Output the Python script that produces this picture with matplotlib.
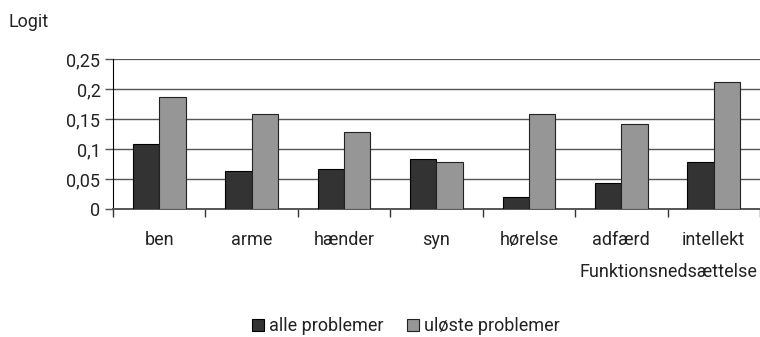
import matplotlib.pyplot as plt
import numpy as np

plt.rcParams['font.family'] = ['Roboto', 'DejaVu Sans']

categories = ['ben', 'arme', 'hænder', 'syn', 'hørelse', 'adfærd', 'intellekt']
alle = [0.108, 0.063, 0.067, 0.083, 0.020, 0.043, 0.078]
uloste = [0.186, 0.158, 0.128, 0.078, 0.158, 0.142, 0.211]
yticks = [0, 0.05, 0.1, 0.15, 0.2, 0.25]
ylabels = ['0', '0,05', '0,1', '0,15', '0,2', '0,25']

fs = 13
fig = plt.figure(figsize=(7.6, 3.37), dpi=100)
ax = fig.add_axes([113 / 760, 1 - 209 / 337, 647 / 760, 150 / 337])

x = np.arange(len(categories)) + 0.5
w = 0.285
ax.bar(x - w / 2, alle, w, color='#333333', edgecolor='black', linewidth=0.8,
       label='alle problemer', zorder=3)
ax.bar(x + w / 2, uloste, w, color='#969696', edgecolor='#222222', linewidth=0.8,
       label='uløste problemer', zorder=3)

ax.set_xlim(0, len(categories))
ax.set_ylim(0, 0.25)
ax.set_yticks(yticks)
ax.set_yticklabels(ylabels, fontsize=fs, color='#222222')
for t in yticks[1:]:
    ax.axhline(t, color='#555555', lw=1.6 if t == 0.25 else 1.0, zorder=1)

ax.set_xticks(np.arange(len(categories) + 1))
ax.set_xticklabels([])
ax.tick_params(axis='x', direction='out', length=6, width=1, color='#333333')
ax.tick_params(axis='y', length=6, width=1, color='#555555', pad=3)
for xi, c in zip(x, categories):
    ax.text(xi, -0.052, c, ha='center', va='center', fontsize=fs,
            color='#222222', transform=ax.transData)

for s in ['top', 'right']:
    ax.spines[s].set_visible(False)
ax.spines['left'].set_color('black')
ax.spines['bottom'].set_color('#555555')
ax.spines['bottom'].set_linewidth(1.4)

fig.text(8 / 760, 1 - 22 / 337, 'Logit', fontsize=fs, va='center', ha='left',
         color='#222222')
fig.text(757 / 760, 1 - 272 / 337, 'Funktionsnedsættelse', fontsize=fs,
         va='center', ha='right', color='#222222')

leg = fig.legend(loc='center', bbox_to_anchor=(406 / 760, 1 - 326 / 337), ncol=2,
                 frameon=False, fontsize=fs, handlelength=0.65, handleheight=0.65,
                 handletextpad=0.3, columnspacing=1.3)
for t in leg.get_texts():
    t.set_color('#222222')

fig.savefig('out.png', dpi=100)
